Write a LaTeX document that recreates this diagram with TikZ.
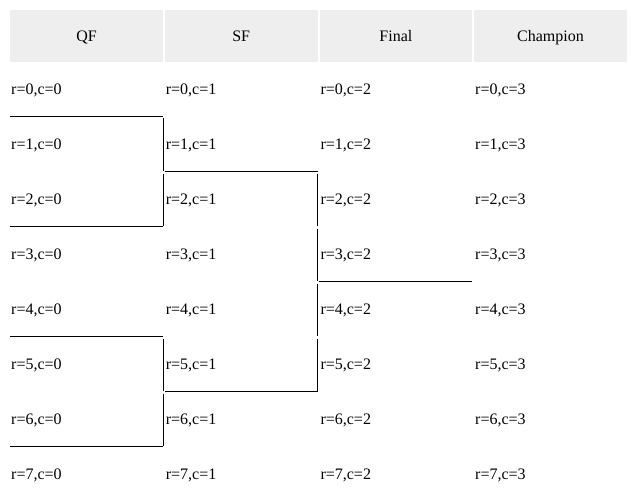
\documentclass[tikz,border=0pt]{standalone}
\usepackage{fontspec}
\setmainfont{Liberation Serif}
\usepackage{tikz}
\definecolor{headgray}{RGB}{238,238,238}

\begin{document}
\begin{tikzpicture}[x=1pt,y=-1pt,
    head/.style={fill=headgray,text width=150.67pt,align=center,inner xsep=1pt,inner ysep=0pt,
      text height=15pt,text depth=3.5pt,
      minimum height=51.5pt,anchor=north west,font=\fontsize{16}{19}\selectfont},
    cell/.style={text width=150.67pt,align=left,inner xsep=1pt,inner ysep=0pt,
      text height=15pt,text depth=3.5pt,
      minimum height=55pt,anchor=north west,font=\fontsize{16}{19}\selectfont},
    topline/.style={line width=1pt},
    sideline/.style={line width=1pt,shorten <=2pt,shorten >=0.5pt}]
          \useasboundingbox (0,0) rectangle (634,500);
          \node[head] (hQF) at (10,10) {QF};
          \node[head] (hSF) at (164.67,10) {SF};
          \node[head] (hFinal) at (319.33,10) {Final};
          \node[head] (hChamp) at (474,10) {Champion};
          % QF
          \node[cell] (r0c0) at (10,61.5) {r=0,c=0};
          \node[cell] (r1c0) at (10,116.5) {r=1,c=0};
          \node[cell] (r2c0) at (10,171.5) {r=2,c=0};
          \node[cell] (r3c0) at (10,226.5) {r=3,c=0};
          \node[cell] (r4c0) at (10,281.5) {r=4,c=0};
          \node[cell] (r5c0) at (10,336.5) {r=5,c=0};
          \node[cell] (r6c0) at (10,391.5) {r=6,c=0};
          \node[cell] (r7c0) at (10,446.5) {r=7,c=0};
          % SF
          \node[cell] (r0c1) at (164.67,61.5) {r=0,c=1};
          \node[cell] (r1c1) at (164.67,116.5) {r=1,c=1};
          \node[cell] (r2c1) at (164.67,171.5) {r=2,c=1};
          \node[cell] (r3c1) at (164.67,226.5) {r=3,c=1};
          \node[cell] (r4c1) at (164.67,281.5) {r=4,c=1};
          \node[cell] (r5c1) at (164.67,336.5) {r=5,c=1};
          \node[cell] (r6c1) at (164.67,391.5) {r=6,c=1};
          \node[cell] (r7c1) at (164.67,446.5) {r=7,c=1};
          % Final
          \node[cell] (r0c2) at (319.33,61.5) {r=0,c=2};
          \node[cell] (r1c2) at (319.33,116.5) {r=1,c=2};
          \node[cell] (r2c2) at (319.33,171.5) {r=2,c=2};
          \node[cell] (r3c2) at (319.33,226.5) {r=3,c=2};
          \node[cell] (r4c2) at (319.33,281.5) {r=4,c=2};
          \node[cell] (r5c2) at (319.33,336.5) {r=5,c=2};
          \node[cell] (r6c2) at (319.33,391.5) {r=6,c=2};
          \node[cell] (r7c2) at (319.33,446.5) {r=7,c=2};
          % Champion
          \node[cell] (r0c3) at (474,61.5) {r=0,c=3};
          \node[cell] (r1c3) at (474,116.5) {r=1,c=3};
          \node[cell] (r2c3) at (474,171.5) {r=2,c=3};
          \node[cell] (r3c3) at (474,226.5) {r=3,c=3};
          \node[cell] (r4c3) at (474,281.5) {r=4,c=3};
          \node[cell] (r5c3) at (474,336.5) {r=5,c=3};
          \node[cell] (r6c3) at (474,391.5) {r=6,c=3};
          \node[cell] (r7c3) at (474,446.5) {r=7,c=3};
          % QF brackets
          \draw[topline] (r1c0.north west) -- (r1c0.north east);
          \draw[sideline] (r1c0.north east) -- (r1c0.south east);
          \draw[sideline] (r2c0.north east) -- (r2c0.south east);
          \draw[topline] (r2c0.south west) -- (r2c0.south east);
          \draw[topline] (r5c0.north west) -- (r5c0.north east);
          \draw[sideline] (r5c0.north east) -- (r5c0.south east);
          \draw[sideline] (r6c0.north east) -- (r6c0.south east);
          \draw[topline] (r6c0.south west) -- (r6c0.south east);
          % SF bracket
          \draw[topline] (r2c1.north west) -- (r2c1.north east);
          \draw[sideline] (r2c1.north east) -- (r2c1.south east);
          \draw[sideline] (r3c1.north east) -- (r3c1.south east);
          \draw[sideline] (r4c1.north east) -- (r4c1.south east);
          \draw[sideline] (r5c1.north east) -- (r5c1.south east);
          \draw[topline] (r5c1.south west) -- (r5c1.south east);
          % Final
          \draw[topline] (r3c2.south west) -- (r3c2.south east);
        \end{tikzpicture}
\end{document}
